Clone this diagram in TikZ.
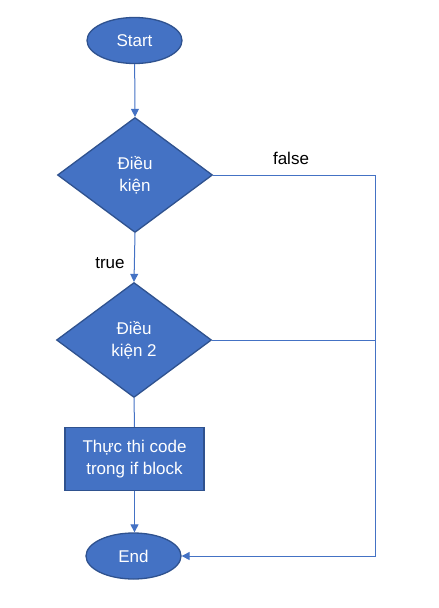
\documentclass[tikz,border=0pt]{standalone}
\usepackage{fontspec}
\setmainfont{Liberation Sans}
\usetikzlibrary{shapes.geometric,arrows.meta}
\definecolor{fillblue}{HTML}{4472C4}
\definecolor{edgeblue}{HTML}{2F528F}
\begin{document}
\begin{tikzpicture}[x=1pt,y=-1pt,
  base/.style={fill=fillblue,draw=edgeblue,line width=1.3pt,text=white,
    font=\fontsize{17}{22}\selectfont,align=center,inner sep=0pt},
  term/.style={base,ellipse,minimum width=95pt,minimum height=46pt},
  decide/.style={base,diamond,minimum width=155pt,minimum height=115pt},
  proc/.style={base,rectangle,minimum width=139pt,minimum height=63pt},
  conn/.style={draw=fillblue,line width=1pt},
  arr/.style={conn,-{Triangle[width=8pt,length=8pt]}},
  lbl/.style={font=\fontsize{17}{22}\selectfont,text=black,inner sep=0pt}]
\useasboundingbox (0,0) rectangle (439,608);
\node[term] (start) at (134.5,40.5) {Start};
\node[decide] (d1) at (135,175) {Điều\\kiện};
\node[decide] (d2) at (134,340) {Điều\\kiện 2};
\node[proc] (code) at (134.5,459) {Thực thi code\\trong if block};
\node[term] (end) at (133.5,556) {End};
\coordinate (cR) at (375,556);
\node[lbl] (lf) at (291,158) {false};
\node[lbl] (lt) at (110,263) {true};
\draw[arr] (start) -- (d1.north);
\draw[arr] (d1.south) -- (d2.north);
\draw[conn] (d2.south) -- (code.north);
\draw[arr] (code.south) -- (code.south |- end.north);
\draw[arr] (d1.east) -| (cR) -- (end.east);
\draw[conn] (d2.east) -- (d2.east -| cR);
\end{tikzpicture}
\end{document}
